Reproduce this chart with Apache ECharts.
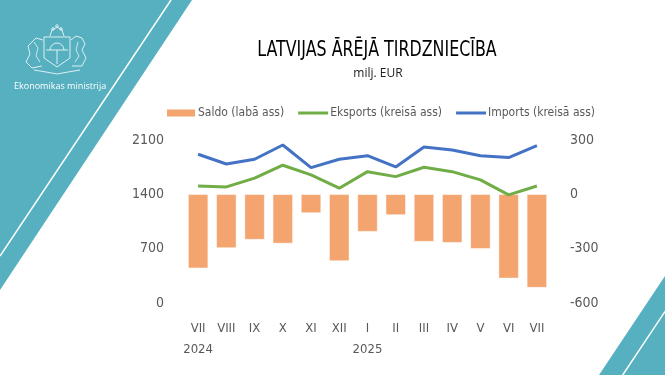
<!DOCTYPE html>
<html>
<head>
<meta charset="utf-8">
<script src="https://cdn.jsdelivr.net/npm/echarts@6/dist/echarts.min.js"></script>
<style>
html,body{margin:0;padding:0;background:#fff;}
#c{width:665px;height:375px;}
</style>
</head>
<body>
<div id="c"></div>
<script>
var months = ['VII','VIII','IX','X','XI','XII','I','II','III','IV','V','VI','VII'];
var years = {0:'2024', 6:'2025'};
var saldo = [-408,-296,-250,-271,-103,-368,-206,-114,-261,-267,-300,-464,-515];
var eksports = [1508,1496,1608,1775,1650,1479,1692,1628,1749,1692,1586,1393,1508];
var imports = [1916,1791,1852,2036,1744,1852,1898,1753,2010,1971,1898,1873,2027];
var leftTicks = [0,700,1400,2100];
var rightTicks = [-600,-300,0,300];

var NARROW = '"DejaVu Sans Condensed","Liberation Sans Narrow",sans-serif';
var TEAL = '#56B0C0';
var GRAY = '#595959';
var LINE_ICON = 'path://M0,0 L0.001,0 Z M0,3 L30,3 L30,6 L0,6 Z M0,9 L0.001,9 Z';

var chart = echarts.init(document.getElementById('c'), null, {renderer:'canvas'});

var graphics = [
  {type:'polygon', shape:{points:[[0,0],[192,0],[0,290]]}, style:{fill:TEAL}, silent:true, z:-10},
  {type:'line', shape:{x1:171,y1:0,x2:0,y2:256}, style:{stroke:'#fff',lineWidth:1.5}, silent:true, z:-9},
  {type:'polygon', shape:{points:[[665,276],[665,375],[599,375]]}, style:{fill:TEAL}, silent:true, z:-10},
  {type:'line', shape:{x1:622,y1:376,x2:666,y2:310}, style:{stroke:'#fff',lineWidth:1.5}, silent:true, z:-9},
  {type:'group', silent:true, z:-8, children:[
    {type:'polyline', shape:{points:[[44,37],[70,37],[70,58],[57,67],[44,58],[44,37]]}, style:{stroke:'#fff',fill:null,lineWidth:0.8}},
    {type:'arc', shape:{cx:57,cy:50,r:7,startAngle:Math.PI,endAngle:2*Math.PI}, style:{stroke:'#fff',fill:null,lineWidth:0.8}},
    {type:'line', shape:{x1:46,y1:50,x2:68,y2:50}, style:{stroke:'#fff',lineWidth:0.8}},
    {type:'line', shape:{x1:57,y1:50,x2:57,y2:64}, style:{stroke:'#fff',lineWidth:0.8}},
    {type:'polyline', shape:{points:[[50,36],[52,30],[57,27],[62,30],[64,36]]}, style:{stroke:'#fff',fill:null,lineWidth:0.8}},
    {type:'circle', shape:{cx:53,cy:29,r:1.3}, style:{stroke:'#fff',fill:null,lineWidth:0.7}},
    {type:'circle', shape:{cx:57,cy:26,r:1.3}, style:{stroke:'#fff',fill:null,lineWidth:0.7}},
    {type:'circle', shape:{cx:61,cy:29,r:1.3}, style:{stroke:'#fff',fill:null,lineWidth:0.7}},
    {type:'polyline', shape:{points:[[43,40],[36,38],[32,42],[28,46],[30,54],[26,62],[32,68],[42,66]]}, style:{stroke:'#fff',fill:null,lineWidth:0.8}},
    {type:'polyline', shape:{points:[[34,42],[38,48],[36,56],[40,62]]}, style:{stroke:'#fff',fill:null,lineWidth:0.7}},
    {type:'polyline', shape:{points:[[71,40],[76,36],[82,38],[85,44],[82,50],[86,58],[82,66],[72,66]]}, style:{stroke:'#fff',fill:null,lineWidth:0.8}},
    {type:'polyline', shape:{points:[[78,42],[76,50],[79,56],[75,62]]}, style:{stroke:'#fff',fill:null,lineWidth:0.7}},
    {type:'polyline', shape:{points:[[34,70],[46,72],[57,74],[68,72],[80,70]]}, style:{stroke:'#fff',fill:null,lineWidth:0.8}}
  ]},
  {type:'text', x:14, y:86, silent:true, style:{text:'Ekonomikas ministrija', fill:'#fff', font:'9px "Open Sans",sans-serif', textVerticalAlign:'middle'}},
  {type:'text', x:377, y:51, scaleX:0.84, silent:true, style:{text:'LATVIJAS ĀRĒJĀ TIRDZNIECĪBA', fill:'#000', font:'21px '+NARROW, textAlign:'center', textVerticalAlign:'middle'}},
  {type:'text', x:378, y:74, silent:true, style:{text:'milj. EUR', fill:'#222', font:'12px "Open Sans",sans-serif', textAlign:'center', textVerticalAlign:'middle'}}
];

chart.setOption({
  animation:false,
  backgroundColor:'#fff',
  graphic: graphics,
  legend:{
    top:102, left:160,
    itemWidth:30, itemHeight:9, itemGap:14,
    textStyle:{color:GRAY, fontFamily:NARROW, fontSize:12, padding:[0,0,0,-3]},
    data:[
      {name:'Saldo (labā ass)', icon:'rect'},
      {name:'Eksports (kreisā ass)', icon:LINE_ICON},
      {name:'Imports (kreisā ass)', icon:LINE_ICON}
    ]
  },
  grid:{left:184, right:114, top:140, bottom:72, containLabel:false},
  xAxis:{
    type:'category', data:months,
    axisLine:{show:false}, axisTick:{show:false},
    axisLabel:{
      color:GRAY, fontFamily:NARROW, fontSize:13, margin:15, lineHeight:21, interval:0,
      formatter:function(v, i){ return years[i] ? v + '\n' + years[i] : v; }
    }
  },
  yAxis:[
    {type:'value', min:leftTicks[0], max:leftTicks[leftTicks.length-1], interval:700,
      splitLine:{show:false}, axisLine:{show:false}, axisTick:{show:false},
      axisLabel:{color:GRAY, fontFamily:NARROW, fontSize:14, margin:20, formatter:function(v){return String(v);}}},
    {type:'value', min:rightTicks[0], max:rightTicks[rightTicks.length-1], interval:300, position:'right',
      splitLine:{show:false}, axisLine:{show:false}, axisTick:{show:false},
      axisLabel:{color:GRAY, fontFamily:NARROW, fontSize:14, margin:19, formatter:function(v){return String(v);}}}
  ],
  series:[
    {name:'Saldo (labā ass)', type:'bar', yAxisIndex:1, data:saldo, barWidth:'71%',
      itemStyle:{color:'#F3A46F', borderColor:'#fff', borderWidth:0.5}},
    {name:'Eksports (kreisā ass)', type:'line', yAxisIndex:0, data:eksports, symbol:'none',
      lineStyle:{color:'#70AD47', width:3}, itemStyle:{color:'#70AD47'}, z:3},
    {name:'Imports (kreisā ass)', type:'line', yAxisIndex:0, data:imports, symbol:'none',
      lineStyle:{color:'#4472C4', width:3}, itemStyle:{color:'#4472C4'}, z:3}
  ]
});
</script>
</body>
</html>
